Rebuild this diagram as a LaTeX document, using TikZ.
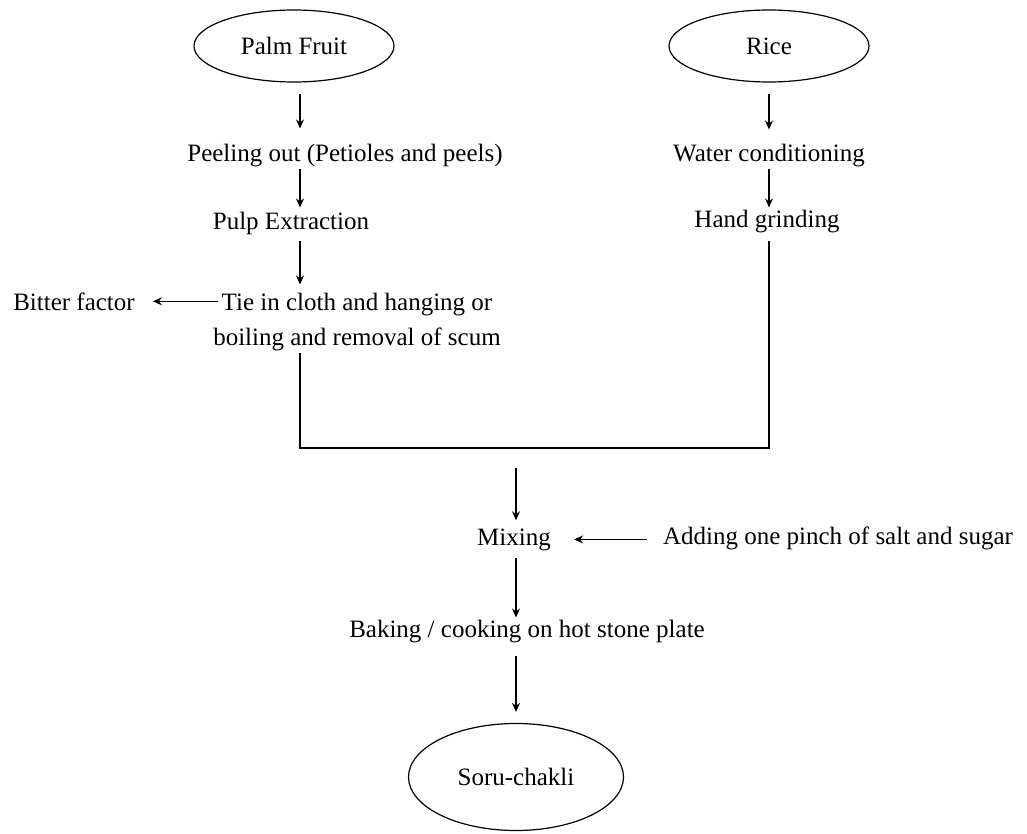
\documentclass[tikz,border=0pt]{standalone}
\usepackage{fontspec}
\setmainfont{Liberation Serif}
\usetikzlibrary{arrows.meta,shapes.geometric}
\tikzset{ov/.style={draw,ellipse,line width=1.2pt,inner sep=0pt,minimum width=200pt,minimum height=72pt},
 t/.style={anchor=base,inner sep=0pt,align=center},
 flow/.style={-{Stealth[length=9pt,width=8pt]},line width=1.3pt},
 wire/.style={line width=2.4pt}}
\begin{document}
\begin{tikzpicture}[x=1pt,y=-1pt,font=\fontsize{25}{35}\selectfont]
\useasboundingbox (0,0) rectangle (1027,834);
\coordinate (cl) at (300,0);\coordinate (cr) at (769,0);\coordinate (cm) at (516,0);
\node[ov](palm) at (294,46){Palm Fruit};
\node[ov](rice) at (769,46){Rice};
\node[t](peel) at (345,162){Peeling out (Petioles and peels)};
\node[t](pulp) at (291,230){Pulp Extraction};
\node[t](tie) at (357,345){Tie in cloth and hanging or\\boiling and removal of scum};
\node[t](bitter) at (74,310){Bitter factor};
\node[t](water) at (769,162){Water conditioning};
\node[t](hand) at (767,228){Hand grinding};
\coordinate (join) at (516,448);
\node[t](mix) at (514,545){Mixing};
\node[t](salt) at (838,544){Adding one pinch of salt and sugar};
\node[t](bake) at (527,637){Baking / cooking on hot stone plate};
\node[ov,minimum width=215pt,minimum height=107pt](soru) at (516,777){Soru-chakli};
\draw[flow,shorten <=11pt,shorten >=16pt](palm.south -| cl)--(peel.north -| cl);
\draw[flow,shorten <=1pt,shorten >=5pt](peel.south -| cl)--(pulp.north -| cl);
\draw[flow,shorten <=5pt,shorten >=8pt](pulp.south -| cl)--(tie.north -| cl);
\draw[flow,shorten <=-5pt,shorten >=18pt](bitter -| tie.west)--(bitter.east);
\draw[flow,shorten <=11pt,shorten >=15pt](rice.south)--(water.north);
\draw[flow,shorten <=1pt,shorten >=3pt](water.south)--(hand.north -| cr);
\draw[wire,shorten <=2pt,shorten >=7pt](tie.south -| cl) |- (join) -| (hand.south -| cr);
\draw[flow,shorten <=20pt,shorten >=8pt](join -| cm)--(mix.north -| cm);
\draw[flow,shorten <=16pt,shorten >=23pt](salt.west |- mix)--(mix.east);
\draw[flow,shorten <=7pt,shorten >=2pt](mix.south -| cm)--(bake.north -| cm);
\draw[flow,shorten <=13pt,shorten >=11pt](bake.south -| cm)--(soru.north);
\end{tikzpicture}
\end{document}
